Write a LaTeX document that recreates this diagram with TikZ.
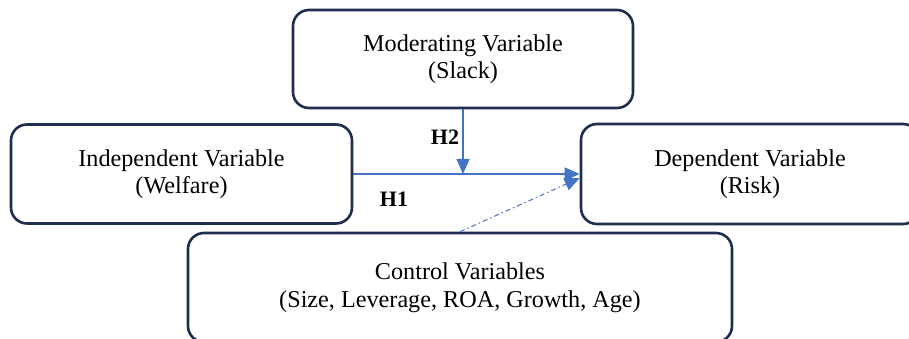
\documentclass[tikz,border=0pt]{standalone}
\usepackage{fontspec}
\setmainfont{Liberation Serif}
\usetikzlibrary{arrows.meta}
\definecolor{boxline}{RGB}{31,45,78}
\definecolor{arrowblue}{RGB}{68,114,196}
\tikzset{
  varbox/.style={draw=boxline, line width=2.6pt, rounded corners=16pt, fill=white,
    align=center, inner sep=0pt, font=\fontsize{24.2}{27.5}\selectfont},
  link/.style={draw=arrowblue, line width=1.5pt, -{Triangle[length=15pt,width=13pt]}},
  ctrl/.style={draw=arrowblue, line width=1pt, dash pattern=on 5pt off 3pt on 1.5pt off 3pt,
    -{Triangle[length=15pt,width=13pt]}},
  hlabel/.style={font=\fontsize{22}{27}\selectfont\bfseries}
}
\begin{document}
\begin{tikzpicture}[x=1pt,y=-1pt]
\useasboundingbox (0,0) rectangle (909,339);
\clip (0,0) rectangle (909,339);
\node[varbox, minimum width=340pt, minimum height=98pt] (mod) at (463,59) {Moderating Variable\\(Slack)};
\node[varbox, minimum width=341pt, minimum height=99pt] (ind) at (181.5,174) {Independent Variable\\(Welfare)};
\node[varbox, minimum width=338pt, minimum height=100pt] (dep) at (750,174) {Dependent Variable\\(Risk)};
\node[varbox, minimum width=544pt, minimum height=109pt] (ctl) at (460,287.5) {Control Variables\\(Size, Leverage, ROA, Growth, Age)};
\coordinate (meet) at (mod.south |- ind.east);
\draw[link] (ind.east) -- (dep.west);
\draw[link] (mod.south) -- (meet);
\draw[ctrl] (ctl.north) -- ([yshift=-4pt]dep.west);
\node[hlabel] (h2) at (445,137) {H2};
\node[hlabel] (h1) at (394,199) {H1};
\end{tikzpicture}
\end{document}
